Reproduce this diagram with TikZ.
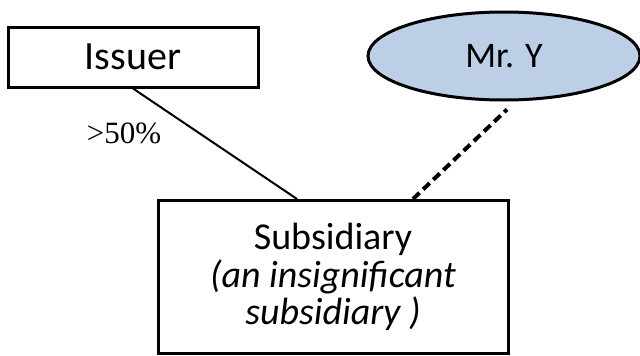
\documentclass[tikz,border=0pt]{standalone}
\usepackage{fontspec}
\setmainfont{Carlito}
\newfontfamily\timesfont{Liberation Serif}
\usetikzlibrary{shapes.geometric,calc}
\definecolor{personfill}{RGB}{188,207,230}
\begin{document}
\begin{tikzpicture}[x=1pt,y=-1pt,
  box/.style={draw,line width=3pt,inner sep=0pt,align=center,
    font=\fontsize{38}{37.5}\selectfont},
  owner/.style={draw,ellipse,line width=3pt,inner sep=0pt,fill=personfill,
    font=\fontsize{36}{34}\selectfont},
  link/.style={line width=2pt},
  tie/.style={line width=4pt,dash pattern=on 9pt off 5pt}]
  \useasboundingbox (0,0) rectangle (640,356);
  \node[box,minimum width=250pt,minimum height=60pt,font=\fontsize{40}{40}\selectfont]
    (issuer) at (133,57) {Issuer};
  \node[owner,minimum width=272pt,minimum height=88pt] (mry) at (504,56) {Mr. Y};
  \node[box,minimum width=350pt,minimum height=153pt] (sub) at (333,277)
    {Subsidiary\\\textit{(an insignificant}\\\textit{subsidiary )}};
  \draw[link] (issuer.south) -- ($(sub.north)+(-36,0)$);
  \node[font=\timesfont\fontsize{31}{31}\selectfont] (pct) at (124,133) {>50\%};
  \draw[tie] ($(sub.north)+(80,0)$) -- ($(mry.south)+(3,8)$);
\end{tikzpicture}
\end{document}
